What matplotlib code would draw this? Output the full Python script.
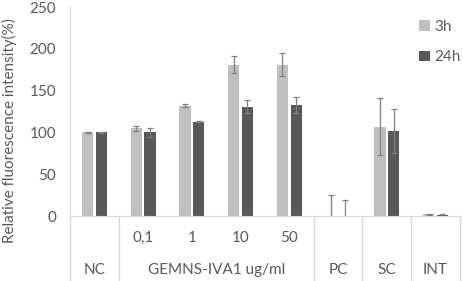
import matplotlib.pyplot as plt
import numpy as np

plt.rcParams['font.family'] = ['Lato', 'DejaVu Sans']

# data
sub_labels = ["", "0,1", "1", "10", "50", "", "", ""]
group_labels = ["NC", "GEMNS-IVA1 ug/ml", "PC", "SC", "INT"]
group_sizes = [1, 4, 1, 1, 1]
vals_3h = [100, 105, 132, 181, 181, 0, 107, 2]
err_3h = [0.8, 3, 1.5, 10, 14, 25, 34, 1]
vals_24h = [100, 100, 113, 131, 133, 0, 102, 1.5]
err_24h = [0.8, 5, 1, 8, 10, 19, 26, 0.8]

c_light = "#bfbfbf"
c_dark = "#595959"
c_text = "#595959"
c_line = "#d9d9d9"
fs = 11

fig = plt.figure(figsize=(4.64, 2.81), dpi=100)
ax = fig.add_axes([0.151, 0.231, 0.840, 0.744])

x = np.arange(len(vals_3h))
w = 0.23
ekw = dict(ecolor="#7f7f7f", elinewidth=0.9, capsize=2.5, capthick=0.9)
ax.bar(x - 0.14, vals_3h, w, color=c_light, label="3h", yerr=err_3h, error_kw=ekw)
ax.bar(x + 0.14, vals_24h, w, color=c_dark, label="24h", yerr=err_24h, error_kw=ekw)

ax.set_xlim(-0.5, len(x) - 0.5)
ax.set_ylim(0, 250)
ax.set_yticks(np.arange(0, 251, 50))
ax.tick_params(axis="y", length=0, labelsize=fs, colors=c_text, pad=10)
ax.set_xticks([])
for s in ["top", "right"]:
    ax.spines[s].set_visible(False)
ax.spines["left"].set_color(c_line)
ax.spines["bottom"].set_color(c_line)
fig.text(9 / 464, 1 - 131 / 281, "Relative fluorescence intensity(%)", rotation=90,
         ha="center", va="center", fontsize=fs, color=c_text)

# category axis below the plot
trans = ax.get_xaxis_transform()
for xi, lab in zip(x, sub_labels):
    if lab:
        ax.text(xi, -0.105, lab, transform=trans, ha="center", va="center",
                fontsize=fs, color=c_text)
bounds = np.cumsum([0] + group_sizes) - 0.5
for i, lab in enumerate(group_labels):
    mid = (bounds[i] + bounds[i + 1]) / 2
    ax.text(mid, -0.26, lab, transform=trans, ha="center", va="center",
            fontsize=fs, color=c_text)
for b in bounds:
    ax.plot([b, b], [0, -0.32], transform=trans, color=c_line, lw=1, clip_on=False)

leg = ax.legend(loc="upper left", bbox_to_anchor=(0.895, 0.94), frameon=False,
                fontsize=fs, handlelength=0.7, handleheight=0.7, borderpad=0,
                borderaxespad=0, labelspacing=1.1, handletextpad=0.3)
for t in leg.get_texts():
    t.set_color(c_text)

fig.savefig("out.png", dpi=100)
